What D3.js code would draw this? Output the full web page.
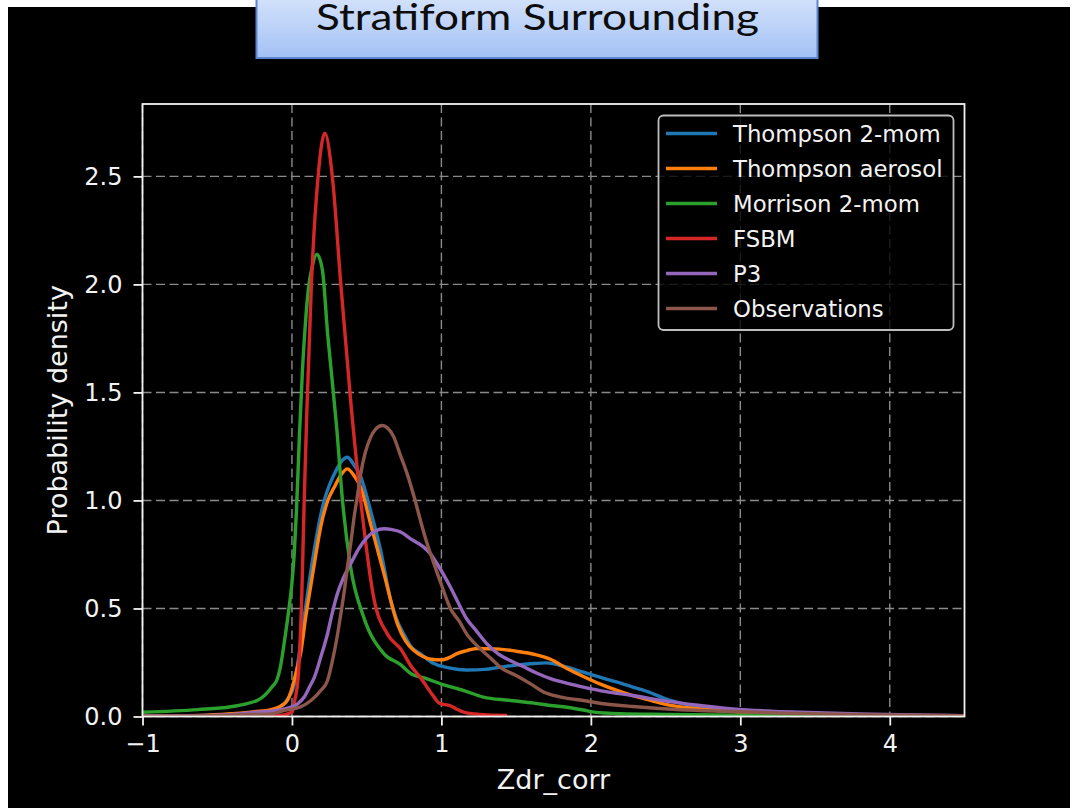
<!DOCTYPE html>
<html>
<head>
<meta charset="utf-8">
<script src="https://cdn.jsdelivr.net/npm/d3@7"></script>
<style>
  html, body { margin: 0; padding: 0; background: #ffffff; }
  svg { display: block; }
</style>
</head>
<body>
<svg id="chart" width="1076" height="808"></svg>
<script>
// Kernel density curves of corrected Zdr, stratiform surrounding region
const seriesNames = ["Thompson 2-mom", "Thompson aerosol", "Morrison 2-mom", "FSBM", "P3", "Observations"];
const seriesColors = ["#1f77b4", "#ff7f0e", "#2ca02c", "#d62728", "#9467bd", "#8c564b"];

const thompson2momX = [-1.0, -0.5, -0.2, -0.1, -0.03, 0.016, 0.05, 0.082, 0.115, 0.149, 0.18, 0.216, 0.25, 0.282, 0.33, 0.371, 0.41, 0.46, 0.527, 0.593, 0.66, 0.70, 0.749, 0.80, 0.86, 0.95, 1.05, 1.17, 1.29, 1.39, 1.5, 1.62, 1.7, 1.84, 1.95, 2.06, 2.17, 2.28, 2.4, 2.5, 2.6, 2.73, 2.95, 3.2, 3.4, 3.8, 4.2, 4.5];
const thompson2momY = [0.002, 0.005, 0.015, 0.035, 0.08, 0.15, 0.30, 0.46, 0.62, 0.77, 0.89, 1.0, 1.07, 1.12, 1.18, 1.20, 1.17, 1.11, 0.95, 0.77, 0.54, 0.45, 0.38, 0.32, 0.29, 0.245, 0.225, 0.215, 0.218, 0.228, 0.238, 0.245, 0.248, 0.228, 0.205, 0.182, 0.16, 0.136, 0.11, 0.082, 0.062, 0.046, 0.028, 0.018, 0.014, 0.008, 0.004, 0.002];

const thompsonAerosolX = [-1.0, -0.6, -0.4, -0.25, -0.14, -0.07, -0.03, 0.0, 0.03, 0.06, 0.09, 0.127, 0.16, 0.193, 0.24, 0.282, 0.33, 0.371, 0.41, 0.46, 0.527, 0.616, 0.705, 0.76, 0.816, 0.87, 0.93, 1.0, 1.06, 1.1, 1.17, 1.24, 1.39, 1.5, 1.62, 1.73, 1.84, 1.95, 2.06, 2.17, 2.28, 2.4, 2.5, 2.73, 2.95, 3.2, 3.5, 4.0, 4.5];
const thompsonAerosolY = [0.002, 0.005, 0.013, 0.022, 0.032, 0.05, 0.075, 0.13, 0.21, 0.30, 0.45, 0.61, 0.75, 0.88, 1.0, 1.06, 1.12, 1.146, 1.12, 1.06, 0.89, 0.66, 0.43, 0.35, 0.305, 0.28, 0.265, 0.262, 0.275, 0.29, 0.305, 0.315, 0.312, 0.302, 0.288, 0.265, 0.222, 0.185, 0.151, 0.122, 0.097, 0.075, 0.056, 0.035, 0.023, 0.015, 0.01, 0.005, 0.002];

const morrisonX = [-1.0, -0.63, -0.41, -0.3, -0.23, -0.18, -0.13, -0.1, -0.08, -0.05, -0.02, 0.0, 0.015, 0.03, 0.05, 0.07, 0.09, 0.11, 0.135, 0.167, 0.204, 0.24, 0.27, 0.30, 0.338, 0.393, 0.48, 0.616, 0.727, 0.793, 0.9, 1.0, 1.15, 1.28, 1.45, 1.62, 1.73, 1.84, 1.95, 2.02, 2.2, 2.5, 3.0, 3.5, 4.5];
const morrisonY = [0.02, 0.032, 0.045, 0.06, 0.075, 0.10, 0.14, 0.17, 0.22, 0.35, 0.5, 0.62, 0.75, 0.95, 1.3, 1.6, 1.82, 1.98, 2.08, 2.14, 2.065, 1.76, 1.55, 1.33, 1.0, 0.69, 0.46, 0.29, 0.24, 0.2, 0.175, 0.15, 0.12, 0.09, 0.075, 0.062, 0.051, 0.043, 0.03, 0.02, 0.013, 0.01, 0.006, 0.004, 0.002];

const fsbmX = [-0.3, -0.1, 0.0, 0.02, 0.04, 0.065, 0.082, 0.10, 0.13, 0.175, 0.22, 0.27, 0.327, 0.393, 0.46, 0.55, 0.64, 0.73, 0.80, 0.86, 0.93, 0.99, 1.06, 1.1, 1.15, 1.25, 1.44];
const fsbmY = [0.0, 0.003, 0.02, 0.08, 0.17, 0.54, 1.0, 1.42, 2.0, 2.5, 2.70, 2.5, 2.0, 1.46, 1.0, 0.54, 0.38, 0.31, 0.23, 0.18, 0.11, 0.06, 0.05, 0.035, 0.02, 0.01, 0.005];

const p3X = [-1.0, -0.5, -0.23, -0.1, -0.05, 0.0, 0.04, 0.082, 0.12, 0.149, 0.193, 0.238, 0.27, 0.304, 0.35, 0.393, 0.45, 0.505, 0.56, 0.616, 0.67, 0.727, 0.80, 0.882, 0.93, 0.971, 1.02, 1.06, 1.11, 1.171, 1.23, 1.30, 1.38, 1.46, 1.55, 1.64, 1.73, 1.85, 1.95, 2.1, 2.28, 2.5, 2.73, 2.95, 3.2, 3.4, 3.8, 4.2, 4.5];
const p3Y = [0.002, 0.006, 0.02, 0.028, 0.035, 0.045, 0.06, 0.09, 0.14, 0.18, 0.275, 0.383, 0.48, 0.568, 0.65, 0.707, 0.78, 0.83, 0.86, 0.869, 0.865, 0.854, 0.82, 0.784, 0.75, 0.707, 0.65, 0.599, 0.53, 0.45, 0.40, 0.34, 0.29, 0.259, 0.23, 0.20, 0.175, 0.152, 0.136, 0.115, 0.097, 0.071, 0.051, 0.035, 0.025, 0.02, 0.012, 0.007, 0.004];

const obsX = [-1.0, -0.5, -0.3, -0.14, -0.05, 0.06, 0.127, 0.193, 0.238, 0.271, 0.30, 0.327, 0.35, 0.371, 0.395, 0.416, 0.44, 0.46, 0.49, 0.527, 0.56, 0.604, 0.64, 0.682, 0.72, 0.771, 0.82, 0.86, 0.90, 0.949, 1.0, 1.06, 1.12, 1.171, 1.25, 1.33, 1.40, 1.5, 1.6, 1.68, 1.8, 1.95, 2.1, 2.28, 2.6, 2.95, 3.3, 3.8, 4.5];
const obsY = [0.001, 0.004, 0.009, 0.012, 0.028, 0.045, 0.074, 0.12, 0.167, 0.259, 0.36, 0.475, 0.58, 0.691, 0.81, 0.923, 1.03, 1.123, 1.22, 1.293, 1.33, 1.347, 1.335, 1.293, 1.22, 1.123, 1.01, 0.907, 0.81, 0.71, 0.61, 0.5, 0.44, 0.38, 0.32, 0.27, 0.225, 0.19, 0.15, 0.115, 0.09, 0.074, 0.058, 0.046, 0.031, 0.023, 0.015, 0.008, 0.004];

const xTickValues = [-1, 0, 1, 2, 3, 4];
const yTickValues = [0.0, 0.5, 1.0, 1.5, 2.0, 2.5];

const xLabel = "Zdr_corr";
const yLabel = "Probability density";
const titleText = "Stratiform Surrounding";

const seriesX = [thompson2momX, thompsonAerosolX, morrisonX, fsbmX, p3X, obsX];
const seriesY = [thompson2momY, thompsonAerosolY, morrisonY, fsbmY, p3Y, obsY];
const series = seriesNames.map((name, i) => ({
  name,
  color: seriesColors[i],
  points: seriesX[i].map((x, j) => ({ x, y: seriesY[i][j] }))
}));

const svg = d3.select("#chart");
const W = 1076, H = 808;

// page backdrop: white slide with the black figure panel
svg.append("rect").attr("x", 0).attr("y", 0).attr("width", W).attr("height", H).attr("fill", "#ffffff");
svg.append("rect").attr("x", 8).attr("y", 7).attr("width", 1062).attr("height", H - 7).attr("fill", "#000000");

const plot = { left: 142.5, right: 964.5, top: 104, bottom: 716.5 };
const font = "'DejaVu Sans', sans-serif";

const yMax = d3.max(seriesY.flat()) * 1.05;
const x = d3.scaleLinear().domain([-1, 4.5]).range([plot.left, plot.right]);
const y = d3.scaleLinear().domain([0, yMax]).range([plot.bottom, plot.top]);

// grid
const grid = svg.append("g").attr("class", "grid");
grid.selectAll("line.gx").data(xTickValues).join("line")
  .attr("x1", d => x(d)).attr("x2", d => x(d))
  .attr("y1", plot.top).attr("y2", plot.bottom)
  .attr("stroke", "#8a8a8a").attr("stroke-width", 1.4).attr("stroke-dasharray", "9,4.5");
grid.selectAll("line.gy").data(yTickValues).join("line")
  .attr("x1", plot.left).attr("x2", plot.right)
  .attr("y1", d => y(d)).attr("y2", d => y(d))
  .attr("stroke", "#8a8a8a").attr("stroke-width", 1.4).attr("stroke-dasharray", "9,4.5");

// curves
svg.append("clipPath").attr("id", "plot-clip")
  .append("rect").attr("x", plot.left).attr("y", plot.top)
  .attr("width", plot.right - plot.left).attr("height", plot.bottom - plot.top);

const line = d3.line().x(d => x(d.x)).y(d => y(d.y)).curve(d3.curveMonotoneX);
svg.append("g").attr("clip-path", "url(#plot-clip)")
  .selectAll("path").data(series).join("path")
  .attr("d", d => line(d.points))
  .attr("fill", "none")
  .attr("stroke", d => d.color)
  .attr("stroke-width", 3.4)
  .attr("stroke-linejoin", "round")
  .attr("stroke-linecap", "butt");

// axes
const xAxis = svg.append("g").attr("transform", `translate(0,${plot.bottom})`)
  .call(d3.axisBottom(x).tickValues(xTickValues).tickFormat(d3.format("d")).tickSize(9).tickPadding(9));
const yAxis = svg.append("g").attr("transform", `translate(${plot.left},0)`)
  .call(d3.axisLeft(y).tickValues(yTickValues).tickFormat(d3.format(".1f")).tickSize(9).tickPadding(11));
[xAxis, yAxis].forEach(a => {
  a.select(".domain").remove();
  a.selectAll(".tick line").attr("stroke", "#f2f2f2").attr("stroke-width", 1.8);
  a.selectAll(".tick text").attr("fill", "#f2f2f2").style("font-family", font).style("font-size", "24px");
});

// frame
svg.append("rect")
  .attr("x", plot.left).attr("y", plot.top)
  .attr("width", plot.right - plot.left).attr("height", plot.bottom - plot.top)
  .attr("fill", "none").attr("stroke", "#f2f2f2").attr("stroke-width", 1.8);

// axis labels
svg.append("text")
  .attr("x", (plot.left + plot.right) / 2).attr("y", 789)
  .attr("text-anchor", "middle").attr("fill", "#f2f2f2")
  .style("font-family", font).style("font-size", "27px")
  .text(xLabel);
svg.append("text")
  .attr("transform", `translate(67,${(plot.top + plot.bottom) / 2}) rotate(-90)`)
  .attr("text-anchor", "middle").attr("fill", "#f2f2f2")
  .style("font-family", font).style("font-size", "27px")
  .text(yLabel);

// legend
const legend = svg.append("g").attr("class", "legend");
legend.append("rect")
  .attr("x", 658.5).attr("y", 115.5).attr("width", 295).attr("height", 214.5)
  .attr("rx", 5).attr("ry", 5)
  .attr("fill", "rgba(0,0,0,0.8)").attr("stroke", "#bdbdbd").attr("stroke-width", 1.8);
const rowPitch = 35;
const rows = legend.selectAll("g.row").data(series).join("g")
  .attr("transform", (d, i) => `translate(0,${133.5 + i * rowPitch})`);
rows.append("line")
  .attr("x1", 666).attr("x2", 717).attr("y1", 0).attr("y2", 0)
  .attr("stroke", d => d.color).attr("stroke-width", 3.4);
rows.append("text")
  .attr("x", 733).attr("y", 8.2)
  .attr("fill", "#f2f2f2")
  .style("font-family", font).style("font-size", "22.8px")
  .text(d => d.name);

// title banner
const defs = svg.append("defs");
const grad = defs.append("linearGradient").attr("id", "banner-fill")
  .attr("x1", 0).attr("y1", 0).attr("x2", 0).attr("y2", 1);
grad.append("stop").attr("offset", "0%").attr("stop-color", "#dbe7fc");
grad.append("stop").attr("offset", "100%").attr("stop-color", "#a3c1f4");
svg.append("rect")
  .attr("x", 256.5).attr("y", -12).attr("width", 561).attr("height", 70)
  .attr("fill", "url(#banner-fill)").attr("stroke", "#5b86cf").attr("stroke-width", 2);
svg.append("text")
  .attr("x", 316).attr("y", 30)
  .attr("textLength", 443).attr("lengthAdjust", "spacingAndGlyphs")
  .attr("fill", "#0d0d0d")
  .style("font-family", "Lato, 'Open Sans', sans-serif").style("font-size", "36px")
  .text(titleText);
</script>
</body>
</html>
